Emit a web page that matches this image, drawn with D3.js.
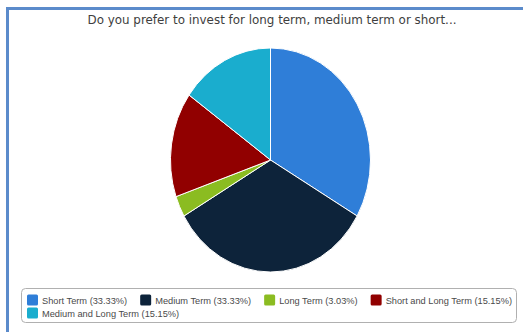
<!DOCTYPE html>
<html>
<head>
<meta charset="utf-8">
<script src="https://cdn.jsdelivr.net/npm/d3@7"></script>
<style>
  html, body { margin: 0; padding: 0; background: #fff; }
  svg { display: block; }
</style>
</head>
<body>
<svg id="chart" width="523" height="332"></svg>
<script>
// Survey answers (share of respondents, %)
const categories = ["Short Term", "Medium Term", "Long Term", "Short and Long Term", "Medium and Long Term"];
const shares = [33.33, 33.33, 3.03, 15.15, 15.15];
const colors = ["#2f7ed8", "#0d233a", "#8bbc21", "#910000", "#1aadce"];
const title = "Do you prefer to invest for long term, medium term or short...";

const svg = d3.select("#chart");

// Outer frame (blue border, open to the right/bottom edges)
svg.append("rect")
  .attr("x", 7.5).attr("y", 8.5)
  .attr("width", 600).attr("height", 400)
  .attr("fill", "#fff")
  .attr("stroke", "#5b8bcb")
  .attr("stroke-width", 3);

// Title
svg.append("text")
  .attr("x", 272).attr("y", 24)
  .attr("text-anchor", "middle")
  .attr("font-family", "'DejaVu Sans', sans-serif")
  .attr("font-size", 11.9)
  .attr("fill", "#3e3e3e")
  .text(title);

// Pie (slightly taller than wide)
const data = categories.map((c, i) => ({ name: c, value: shares[i], color: colors[i] }));
const pie = d3.pie().value(d => d.value).sort(null);
const r = 100;
const arc = d3.arc().innerRadius(0).outerRadius(r);

const g = svg.append("g")
  .attr("transform", "translate(270.5,160) scale(1,1.12)");

g.selectAll("path")
  .data(pie(data))
  .join("path")
  .attr("d", arc)
  .attr("fill", d => d.data.color)
  .attr("stroke", "#fff")
  .attr("stroke-width", 1)
  .attr("vector-effect", "non-scaling-stroke")
  .attr("stroke-linejoin", "round");

// Legend
const legend = svg.append("g");
legend.append("rect")
  .attr("x", 21.5).attr("y", 288.5)
  .attr("width", 495).attr("height", 34)
  .attr("rx", 4)
  .attr("fill", "#fff")
  .attr("stroke", "#b0b0b0")
  .attr("stroke-width", 1);

const legendFont = "'Liberation Sans', Arial, sans-serif";
const rows = [[0, 1, 2, 3], [4]];
const rowY = [300, 313];
const x0 = 27, sym = 11, symGap = 4, itemGap = 13, rowEnd = 512;
const labelOf = d => `${d.name} (${d.value.toFixed(2)}%)`;

// size the legend font so the first row spans the box
const probe = legend.append("text")
  .attr("font-family", legendFont)
  .attr("font-size", 10);
let textSum = 0;
rows[0].forEach(i => { probe.text(labelOf(data[i])); textSum += probe.node().getComputedTextLength(); });
probe.remove();
const fixed = rows[0].length * (sym + symGap) + (rows[0].length - 1) * itemGap;
const fontSize = 10 * (rowEnd - x0 - fixed) / textSum;

rows.forEach((row, ri) => {
  let x = x0;
  row.forEach(i => {
    const d = data[i];
    const item = legend.append("g");
    item.append("rect")
      .attr("x", x).attr("y", rowY[ri] - 5.5)
      .attr("width", sym).attr("height", sym)
      .attr("rx", 1.5)
      .attr("fill", d.color);
    const t = item.append("text")
      .attr("x", x + sym + symGap).attr("y", rowY[ri] + 3.5)
      .attr("font-family", legendFont)
      .attr("font-size", fontSize)
      .attr("fill", "#4a4a4a")
      .text(labelOf(d));
    x += sym + symGap + t.node().getComputedTextLength() + itemGap;
  });
});
</script>
</body>
</html>
